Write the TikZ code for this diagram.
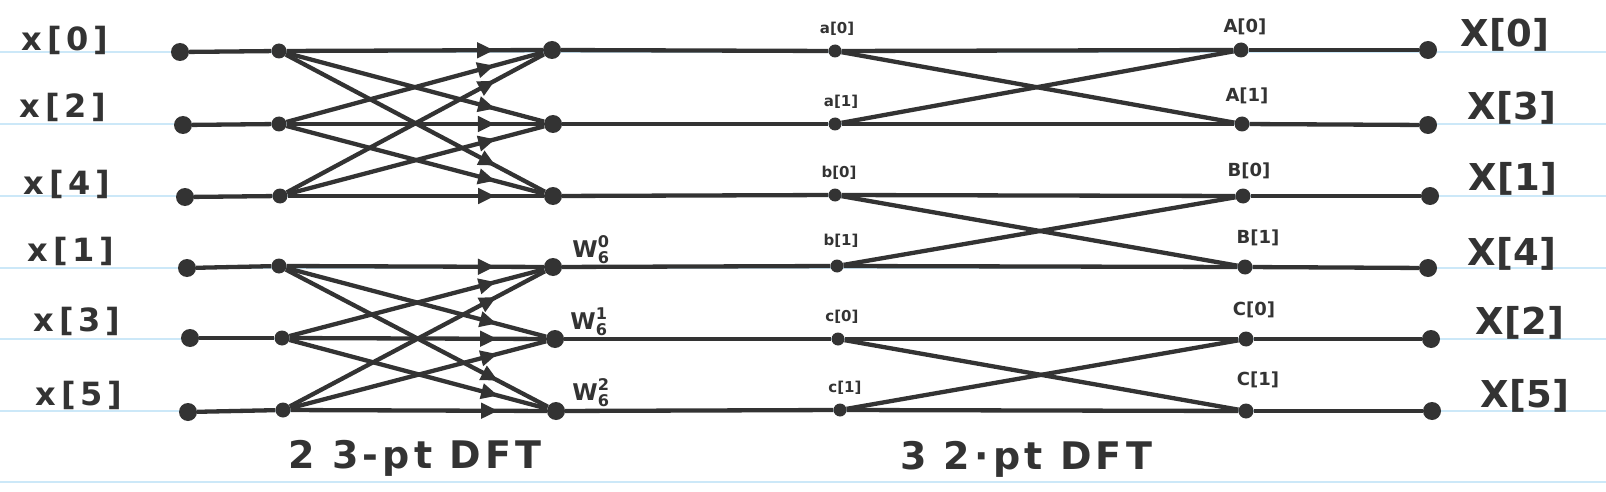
\documentclass[tikz,border=0pt]{standalone}
\usepackage{fontspec}
\usepackage{amsmath}
\setmainfont{DejaVu Sans}
\newfontfamily\handfont[LetterSpace=11]{DejaVu Sans}
\newfontfamily\handwide[LetterSpace=15]{DejaVu Sans}
\usetikzlibrary{arrows.meta,decorations.markings,backgrounds}
\definecolor{ink}{HTML}{333333}
\definecolor{paperrule}{HTML}{CCE8F8}
\tikzset{
  wire/.style={draw=ink,line width=4.3pt},
  flow/.style={wire,postaction={decorate},
    decoration={markings,mark=at position 0.81 with {\arrow[ink]{Triangle[length=17pt,width=15pt]}}}},
  dotbig/.style={circle,fill=ink,inner sep=0pt,minimum size=18pt},
  dotmid/.style={circle,fill=ink,inner sep=0pt,minimum size=15pt},
  dotsmall/.style={circle,fill=ink,inner sep=0pt,minimum size=13pt},
  inlabel/.style={font=\handwide\bfseries\fontsize{32}{32}\selectfont,text=ink,inner sep=0pt},
  outlabel/.style={font=\bfseries\fontsize{37}{37}\selectfont,text=ink,inner sep=0pt},
  tinylabel/.style={font=\bfseries\fontsize{15}{15}\selectfont,text=ink,inner sep=0pt},
  midlabel/.style={font=\bfseries\fontsize{18}{18}\selectfont,text=ink,inner sep=0pt},
  wlabel/.style={font=\bfseries\fontsize{23}{23}\selectfont,text=ink,inner sep=0pt},
  caption/.style={font=\handfont\bfseries\fontsize{38}{38}\selectfont,text=ink,inner sep=0pt},
}
\begin{document}
\begin{tikzpicture}[x=1pt,y=-1pt]
\useasboundingbox (0,0) rectangle (1606,492);

% inputs
\node[dotbig] (in0) at (180,52) {};
\node[dotbig] (in1) at (183,125) {};
\node[dotbig] (in2) at (185,197) {};
\node[dotbig] (in3) at (187,268) {};
\node[dotbig] (in4) at (190,338) {};
\node[dotbig] (in5) at (188,412) {};
% first column of 3-pt DFTs
\node[dotmid] (p0) at (279,51) {};
\node[dotmid] (p1) at (279,124) {};
\node[dotmid] (p2) at (280,196) {};
\node[dotmid] (p3) at (279,266) {};
\node[dotmid] (p4) at (282,338) {};
\node[dotmid] (p5) at (283,410) {};
% outputs of 3-pt DFTs
\node[dotbig] (q0) at (552,50) {};
\node[dotbig] (q1) at (553,124) {};
\node[dotbig] (q2) at (553,196) {};
\node[dotbig] (q3) at (553,267) {};
\node[dotbig] (q4) at (555,339) {};
\node[dotbig] (q5) at (556,411) {};
% inputs of 2-pt DFTs
\node[dotsmall] (u0) at (835,51) {};
\node[dotsmall] (u1) at (835,124) {};
\node[dotsmall] (u2) at (835,195) {};
\node[dotsmall] (u3) at (837,266) {};
\node[dotsmall] (u4) at (838,339) {};
\node[dotsmall] (u5) at (840,410) {};
% outputs of 2-pt DFTs
\node[dotmid] (v0) at (1241,50) {};
\node[dotmid] (v1) at (1242,124) {};
\node[dotmid] (v2) at (1243,196) {};
\node[dotmid] (v3) at (1245,267) {};
\node[dotmid] (v4) at (1246,339) {};
\node[dotmid] (v5) at (1246,411) {};
% final outputs
\node[dotbig] (o0) at (1428,50) {};
\node[dotbig] (o1) at (1428,125) {};
\node[dotbig] (o2) at (1430,196) {};
\node[dotbig] (o3) at (1428,268) {};
\node[dotbig] (o4) at (1431,339) {};
\node[dotbig] (o5) at (1432,411) {};

\begin{scope}[on background layer]
  \fill[white] (0,0) rectangle (1606,492);
  % ruled paper
  \foreach \yy in {52,124,196,268,339,411,482}
    \draw[paperrule,line width=2pt] (0,\yy) -- (1606,\yy);
  \foreach \i in {0,...,5} {
    \draw[wire] (in\i) -- (p\i);
    \draw[wire] (q\i) -- (u\i);
    \draw[wire] (v\i) -- (o\i);
  }
  \foreach \b in {0,3} {
    \foreach \i in {0,1,2} {
      \foreach \j in {0,1,2} {
        \pgfmathtruncatemacro\src{\b+\i}
        \pgfmathtruncatemacro\dst{\b+\j}
        \draw[flow] (p\src) -- (q\dst);
      }
    }
  }
  \foreach \k in {0,2,4} {
    \pgfmathtruncatemacro\kk{\k+1}
    \draw[wire] (u\k) -- (v\k);
    \draw[wire] (u\k) -- (v\kk);
    \draw[wire] (u\kk) -- (v\k);
    \draw[wire] (u\kk) -- (v\kk);
  }
\end{scope}

% input labels
\node[inlabel] (lx0) at (65,40) {x[0]};
\node[inlabel] (lx2) at (63,107) {x[2]};
\node[inlabel] (lx4) at (67,184) {x[4]};
\node[inlabel] (lx1) at (71,251) {x[1]};
\node[inlabel] (lx3) at (77,321) {x[3]};
\node[inlabel] (lx5) at (79,395) {x[5]};
% twiddle labels
\node[wlabel] (w0) at (591,250) {$\text{W}_{\text{6}}^{\text{0}}$};
\node[wlabel] (w1) at (589,322) {$\text{W}_{\text{6}}^{\text{1}}$};
\node[wlabel] (w2) at (591,393) {$\text{W}_{\text{6}}^{\text{2}}$};
% 2-pt DFT input labels
\node[tinylabel] (la0) at (837,29) {a[0]};
\node[tinylabel] (la1) at (841,102) {a[1]};
\node[tinylabel] (lb0) at (839,173) {b[0]};
\node[tinylabel] (lb1) at (841,241) {b[1]};
\node[tinylabel] (lc0) at (842,317) {c[0]};
\node[tinylabel] (lc1) at (845,388) {c[1]};
% 2-pt DFT output labels
\node[midlabel] (lA0) at (1245,27) {A[0]};
\node[midlabel] (lA1) at (1247,96) {A[1]};
\node[midlabel] (lB0) at (1249,171) {B[0]};
\node[midlabel] (lB1) at (1258,238) {B[1]};
\node[midlabel] (lC0) at (1254,310) {C[0]};
\node[midlabel] (lC1) at (1258,380) {C[1]};
% output labels
\node[outlabel] (lX0) at (1505,35) {X[0]};
\node[outlabel] (lX3) at (1512,108) {X[3]};
\node[outlabel] (lX1) at (1513,179) {X[1]};
\node[outlabel] (lX4) at (1512,254) {X[4]};
\node[outlabel] (lX2) at (1520,323) {X[2]};
\node[outlabel] (lX5) at (1525,396) {X[5]};
% captions
\node[caption] (cap1) at (415,458) {2 3-pt DFT};
\node[caption] (cap2) at (1026,459) {3 2·pt DFT};
\end{tikzpicture}
\end{document}
